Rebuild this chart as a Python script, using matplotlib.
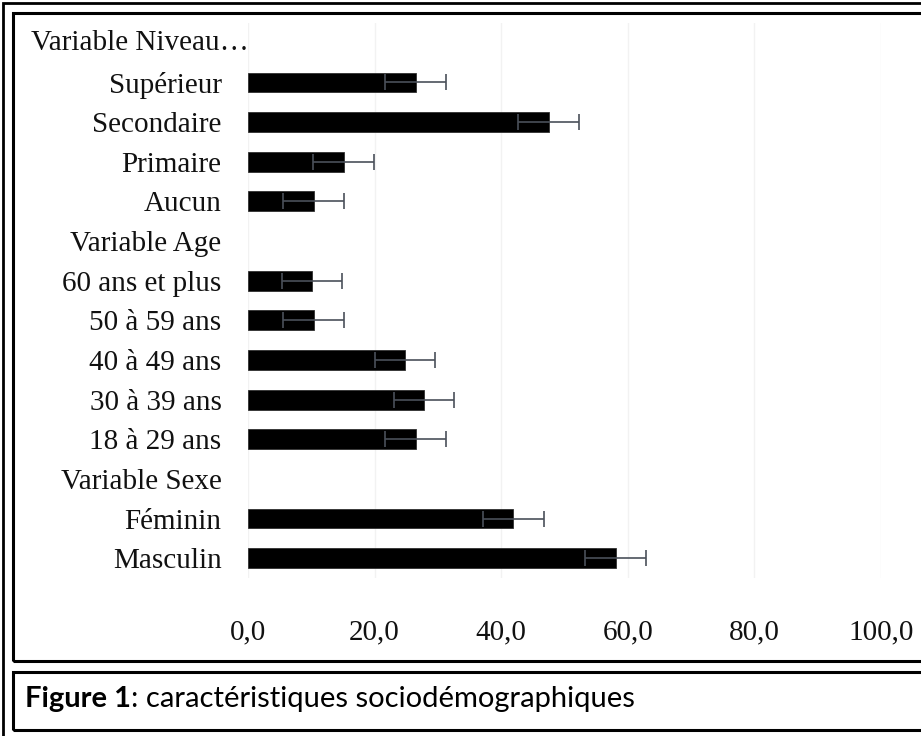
import matplotlib
matplotlib.use("Agg")
import matplotlib.pyplot as plt
from matplotlib.patches import Rectangle
from matplotlib.transforms import blended_transform_factory

# Data (top to bottom as displayed)
categories = ["Variable Niveau…", "Supérieur", "Secondaire", "Primaire", "Aucun",
              "Variable Age", "60 ans et plus", "50 à 59 ans", "40 à 49 ans",
              "30 à 39 ans", "18 à 29 ans", "Variable Sexe", "Féminin", "Masculin"]
values = [None, 26.5, 47.5, 15.1, 10.4,
          None, 10.1, 10.4, 24.8, 27.8, 26.5,
          None, 41.9, 58.1]
errors = [None, 4.8, 4.8, 4.8, 4.8,
          None, 4.8, 4.8, 4.8, 4.8, 4.8,
          None, 4.8, 4.8]
xticks = [0, 20, 40, 60, 80, 100]
xticklabels = ["0,0", "20,0", "40,0", "60,0", "80,0", "100,0"]
caption_bold = "Figure 1"
caption_rest = ": caractéristiques sociodémographiques"

W, H = 921, 736
fig = plt.figure(figsize=(W / 100, H / 100), dpi=100)
fig.patch.set_facecolor("white")

ax = fig.add_axes([248 / W, 1 - 578 / H, (881 - 248) / W, (578 - 23) / H])

n = len(categories)
ypos = [n - 1 - i for i in range(n)]
for y, v, e in zip(ypos, values, errors):
    if v is None:
        continue
    ax.barh(y, v, height=0.5, color="black", edgecolor="#303030", linewidth=0.6, zorder=2)
    ax.errorbar(v, y, xerr=e, fmt="none", ecolor="#4a505a", elinewidth=1.2,
                capsize=5.5, capthick=1.2, zorder=3)

ax.set_xlim(0, 100)
ax.set_ylim(-0.5, n - 0.5)
ax.set_xticks(xticks)
ax.set_xticklabels(xticklabels)
ax.set_yticks(ypos)
labels = [c if not c.startswith("Variable Niveau") else "" for c in categories]
ax.set_yticklabels(labels)

serif = ["Liberation Serif", "DejaVu Serif"]
FS = 21
for lab in ax.get_xticklabels() + ax.get_yticklabels():
    lab.set_family(serif)
    lab.set_fontsize(FS)
    lab.set_color("#111111")
ax.tick_params(axis="x", length=0, pad=30)
ax.tick_params(axis="y", length=0, pad=19)

for s in ax.spines.values():
    s.set_visible(False)
ax.grid(axis="x", color="#f2f2f2", linewidth=1.0, zorder=0)
ax.set_axisbelow(True)

# truncated first label, left aligned
tr = blended_transform_factory(fig.transFigure, ax.transData)
ax.text(31 / W, ypos[0], categories[0], transform=tr, ha="left", va="center",
        family=serif, fontsize=FS, color="#111111")

# borders
def frect(x0, y0, x1, y1, lw):
    fig.patches.append(Rectangle((x0 / W, 1 - y1 / H), (x1 - x0) / W, (y1 - y0) / H,
                                 transform=fig.transFigure, fill=False,
                                 edgecolor="black", linewidth=lw, zorder=10))

frect(3, 3, W + 20, H + 20, 2.0)
frect(13, 13, W + 20, 660.5, 2.2)
frect(13, 671.5, W + 20, 729.5, 2.2)

sans = ["Lato", "DejaVu Sans"]
CFS = 21
t1 = fig.text(25 / W, 1 - 699 / H, caption_bold, family=sans, fontsize=CFS,
              fontweight="bold", ha="left", va="center", color="black")
fig.canvas.draw()
bb = t1.get_window_extent()
fig.text(bb.x1 / W, 1 - 699 / H, caption_rest, family=sans, fontsize=CFS,
         ha="left", va="center", color="black")

fig.savefig("out.png", dpi=100, facecolor="white")
